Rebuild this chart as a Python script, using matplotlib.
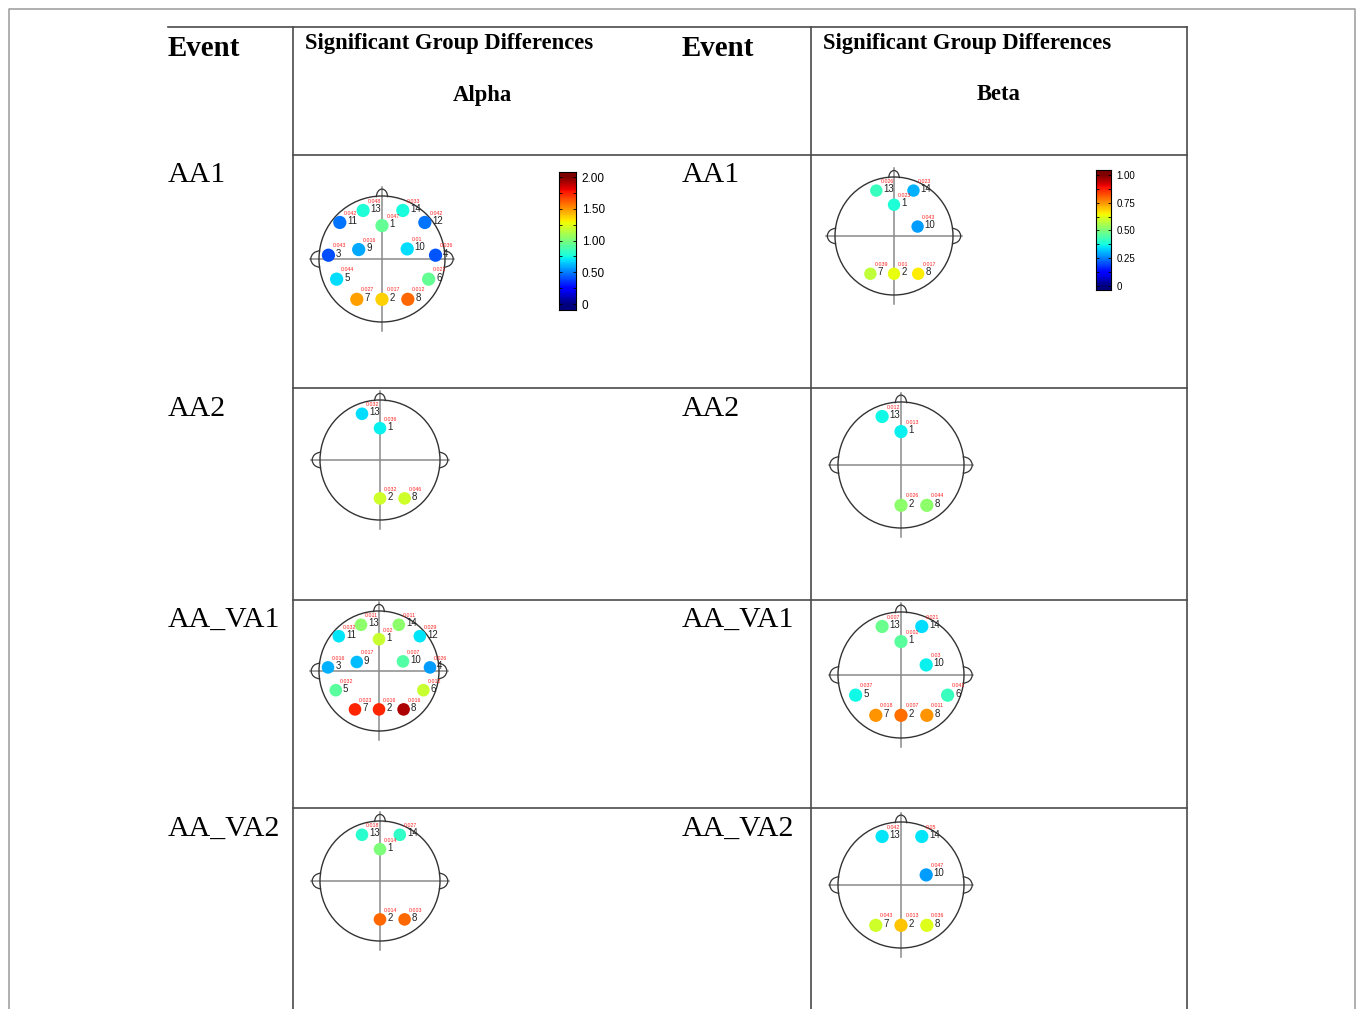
import matplotlib
matplotlib.use("Agg")
import matplotlib.pyplot as plt
import numpy as np
from matplotlib.patches import Circle, Arc
from matplotlib.colors import Normalize

# Table text
events = ["AA1", "AA2", "AA_VA1", "AA_VA2"]
bands = ["Alpha", "Beta"]
band_max = [2.0, 1.0]
alpha_ticks = [0, 0.5, 1.0, 1.5, 2.0]
alpha_ticklabels = ["0", "0.50", "1.00", "1.50", "2.00"]
beta_ticks = [0, 0.25, 0.5, 0.75, 1.0]
beta_ticklabels = ["0", "0.25", "0.50", "0.75", "1.00"]

# Significant channels per event / band: channel, colour value, p-value label
alpha_aa1_ch = [13, 14, 11, 12, 1, 3, 9, 10, 4, 5, 6, 7, 2, 8]
alpha_aa1_val = [0.78, 0.76, 0.48, 0.48, 0.94, 0.40, 0.58, 0.68, 0.42, 0.68, 0.94, 1.48, 1.38, 1.60]
alpha_aa1_p = ["0.048", "0.033", "0.042", "0.042", "0.047", "0.043", "0.016", "0.01",
               "0.036", "0.044", "0.021", "0.027", "0.017", "0.012"]

beta_aa1_ch = [13, 14, 1, 10, 7, 2, 8]
beta_aa1_val = [0.42, 0.30, 0.39, 0.28, 0.58, 0.63, 0.66]
beta_aa1_p = ["0.026", "0.023", "0.023", "0.043", "0.039", "0.01", "0.017"]

alpha_aa2_ch = [13, 1, 2, 8]
alpha_aa2_val = [0.68, 0.72, 1.20, 1.20]
alpha_aa2_p = ["0.032", "0.036", "0.032", "0.046"]

beta_aa2_ch = [13, 1, 2, 8]
beta_aa2_val = [0.37, 0.36, 0.52, 0.52]
beta_aa2_p = ["0.012", "0.013", "0.026", "0.044"]

alpha_aava1_ch = [13, 14, 11, 12, 1, 3, 9, 10, 4, 5, 6, 7, 2, 8]
alpha_aava1_val = [1.04, 1.04, 0.70, 0.70, 1.18, 0.60, 0.62, 0.90, 0.56, 0.92, 1.18, 1.74, 1.74, 1.92]
alpha_aava1_p = ["0.011", "0.011", "0.032", "0.029", "0.02", "0.016", "0.017", "0.007",
                 "0.026", "0.032", "0.012", "0.023", "0.016", "0.016"]

beta_aava1_ch = [13, 14, 1, 10, 5, 6, 7, 2, 8]
beta_aava1_val = [0.48, 0.34, 0.46, 0.36, 0.37, 0.42, 0.75, 0.79, 0.75]
beta_aava1_p = ["0.007", "0.021", "0.002", "0.03", "0.037", "0.041", "0.018", "0.007", "0.011"]

alpha_aava2_ch = [13, 14, 1, 2, 8]
alpha_aava2_val = [0.80, 0.82, 1.00, 1.60, 1.60]
alpha_aava2_p = ["0.018", "0.027", "0.014", "0.014", "0.003"]

beta_aava2_ch = [13, 14, 10, 7, 2, 8]
beta_aava2_val = [0.35, 0.35, 0.28, 0.60, 0.70, 0.62]
beta_aava2_p = ["0.042", "0.05", "0.047", "0.043", "0.013", "0.036"]

# electrode layout on a unit head (x right, y towards the nose)
ELEC = {1: (0.0, 0.53), 2: (0.0, -0.64), 3: (-0.85, 0.06), 4: (0.85, 0.06),
        5: (-0.72, -0.32), 6: (0.74, -0.32), 7: (-0.40, -0.64), 8: (0.41, -0.64),
        9: (-0.37, 0.15), 10: (0.40, 0.16), 11: (-0.67, 0.58), 12: (0.68, 0.58),
        13: (-0.30, 0.77), 14: (0.33, 0.77)}

W, H = 1357, 1009
fig = plt.figure(figsize=(W / 100, H / 100), dpi=100)
ax = fig.add_axes([0, 0, 1, 1])
ax.set_xlim(0, W)
ax.set_ylim(H, 0)
ax.axis("off")

SERIF = "Liberation Serif"
SANS = "Liberation Sans"
LINE = "#4a4a4a"

# outer frame
ax.plot([8.5, 8.5, 1355, 1355], [H, 8.5, 8.5, H], color="#9a9a9a", lw=1.1)

# table rules
ax.plot([168, 1187], [26.5, 26.5], color=LINE, lw=1.2)
for x in [293, 811, 1187]:
    ax.plot([x, x], [26.5, H], color=LINE, lw=1.2)
for y in [155, 388, 600, 808]:
    ax.plot([293, 1187], [y, y], color=LINE, lw=1.2)

# headers
for x0, x1, xc, band in [(168, 305, 482, bands[0]), (682, 823, 999, bands[1])]:
    ax.text(x0, 55.5, "Event", family=SERIF, weight="bold", fontsize=20.8, va="baseline")
    ax.text(x1, 48.5, "Significant Group Differences", family=SERIF, weight="bold",
            fontsize=16.3, va="baseline")
    ax.text(xc, 100.5, band, family=SERIF, weight="bold", fontsize=16.3,
            va="baseline", ha="center")

row_base = [182.5, 415.5, 626.5, 835.5]
for ev, yb in zip(events, row_base):
    for x0 in [168, 682]:
        ax.text(x0, yb, ev, family=SERIF, fontsize=21.5, va="baseline")


def draw_head(cx, cy, R, chans, vals, pvals, vmax):
    norm = Normalize(0, vmax)
    cmap = plt.get_cmap("jet")
    k = 1.15 * R
    ax.plot([cx - k, cx + k], [cy, cy], color="#8a8a8a", lw=1.1, zorder=2)
    ax.plot([cx, cx], [cy - k, cy + k], color="#8a8a8a", lw=1.1, zorder=2)
    ax.add_patch(Circle((cx, cy), R, fill=False, ec="#333333", lw=1.0, zorder=3))
    # ears and nose
    for s, th in [(-1, (90, 270)), (1, (-90, 90))]:
        ax.add_patch(Arc((cx + s * 0.98 * R, cy), 0.30 * R, 0.26 * R,
                         theta1=th[0], theta2=th[1], ec="#333333", lw=0.9, zorder=3))
    ax.add_patch(Arc((cx, cy - 0.98 * R), 0.18 * R, 0.26 * R, theta1=180, theta2=360,
                     ec="#333333", lw=0.9, zorder=3))
    for ch, v, p in zip(chans, vals, pvals):
        nx, ny = ELEC[ch]
        px, py = cx + nx * R, cy - ny * R
        ax.add_patch(Circle((px, py), 0.105 * R, fc=cmap(norm(v)), ec="none", zorder=4))
        ax.text(px + 0.12 * R, py - 1.5, str(ch), family=SANS, fontsize=7,
                va="center", ha="left", color="#222222", zorder=5)
        ax.text(px + 0.07 * R, py - 0.15 * R, p, family=SANS, fontsize=3.8,
                va="center", ha="left", color="#ff2020", zorder=5)


panels = [
    (382, 259, 63, alpha_aa1_ch, alpha_aa1_val, alpha_aa1_p, band_max[0]),
    (894, 236, 59, beta_aa1_ch, beta_aa1_val, beta_aa1_p, band_max[1]),
    (380, 460, 60, alpha_aa2_ch, alpha_aa2_val, alpha_aa2_p, band_max[0]),
    (901, 465, 63, beta_aa2_ch, beta_aa2_val, beta_aa2_p, band_max[1]),
    (379, 671, 60, alpha_aava1_ch, alpha_aava1_val, alpha_aava1_p, band_max[0]),
    (901, 675, 63, beta_aava1_ch, beta_aava1_val, beta_aava1_p, band_max[1]),
    (380, 881, 60, alpha_aava2_ch, alpha_aava2_val, alpha_aava2_p, band_max[0]),
    (901, 885, 63, beta_aava2_ch, beta_aava2_val, beta_aava2_p, band_max[1]),
]
for pnl in panels:
    draw_head(*pnl)


def colorbar(x0, x1, ytop, ybot, lo, hi, vmax, ticks, labels, minor, fs):
    cax = fig.add_axes([x0 / W, 1 - ybot / H, (x1 - x0) / W, (ybot - ytop) / H])
    grad = np.linspace(lo, hi, 256).reshape(-1, 1)
    cax.imshow(grad, cmap="jet", norm=Normalize(0, vmax), aspect="auto",
               origin="lower", extent=[0, 1, lo, hi])
    cax.set_xlim(0, 1)
    cax.set_ylim(lo, hi)
    cax.set_xticks([])
    cax.set_yticks(ticks)
    cax.set_yticklabels(labels, family=SANS, fontsize=fs)
    cax.set_yticks(minor, minor=True)
    cax.tick_params(axis="y", which="both", direction="in", left=True, right=True,
                    labelleft=False, labelright=True, length=2.5, width=0.6, pad=4)
    for sp in cax.spines.values():
        sp.set_linewidth(0.8)


colorbar(559, 576, 172, 310, -0.094, 2.079, band_max[0], alpha_ticks, alpha_ticklabels,
         np.arange(0, 2.01, 0.25), 8.5)
colorbar(1096, 1111, 170, 290, -0.036, 1.045, band_max[1], beta_ticks, beta_ticklabels,
         np.arange(0, 1.01, 0.125), 7)

fig.savefig("out.png", dpi=100)
